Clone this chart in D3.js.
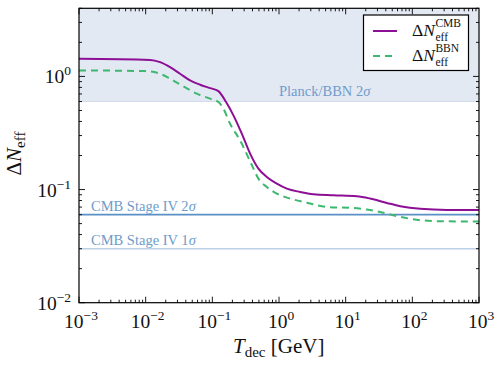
<!DOCTYPE html>
<html><head><meta charset="utf-8">
<script src="https://cdn.jsdelivr.net/npm/d3@7"></script>
<style>body{margin:0;background:#fff}svg{display:block}text{font-family:"Liberation Serif","DejaVu Serif",serif}</style>
</head><body><svg id="c" width="499" height="367"></svg>
<script>
// Data (T_dec in GeV, ΔN_eff)
const cmbT = [0.001,0.01164,0.01644,0.0232,0.0328,0.0463,0.0655,0.0925,0.1233,0.1607,0.207,0.2767,0.3685,0.491,0.656,0.927,1.31,2.07,3.29,6.56,14.7,23.3,41.5,65.7,131,330,1000];
const cmbN = [1.43,1.398,1.337,1.208,1.056,0.922,0.845,0.788,0.742,0.593,0.453,0.312,0.208,0.1532,0.1292,0.113,0.102,0.0953,0.0909,0.0891,0.0873,0.0833,0.0762,0.0713,0.0675,0.0661,0.0661];
const bbnT = [0.001,0.0098,0.0164,0.0232,0.0368,0.0583,0.0925,0.1233,0.1466,0.1845,0.2607,0.3685,0.491,0.656,0.927,1.47,2.61,5.22,13.1,20.8,32.9,46.5,73.7,131,262,1000];
const bbnN = [1.13,1.114,1.056,0.954,0.816,0.704,0.636,0.593,0.519,0.382,0.272,0.178,0.125,0.1054,0.0922,0.0833,0.0765,0.0702,0.0688,0.0666,0.0634,0.0602,0.0566,0.0536,0.0525,0.0522];
const xTickExp = [-3,-2,-1,0,1,2,3];
const yTickExp = [-2,-1,0];
const planckBBN = 0.6, s4two = 0.06, s4one = 0.03;
const xDomain = [1e-3,1e3], yDomain = [0.01,4];

const svg = d3.select("#c");
const L=79,R=479,T=8.3,B=302.7;
const x = d3.scaleLog().domain(xDomain).range([L,R]);
const y = d3.scaleLog().domain(yDomain).range([B,T]);

// band
svg.append("rect").attr("x",L).attr("y",T).attr("width",R-L).attr("height",y(planckBBN)-T).attr("fill","#e3e9f3");
svg.append("line").attr("x1",L).attr("x2",R).attr("y1",y(planckBBN)).attr("y2",y(planckBBN)).attr("stroke","#d3dcea").attr("stroke-width",1);
// S4 lines
svg.append("line").attr("x1",L).attr("x2",R).attr("y1",y(s4two)).attr("y2",y(s4two)).attr("stroke","#5b8fc6").attr("stroke-width",1.6);
svg.append("line").attr("x1",L).attr("x2",R).attr("y1",y(s4one)).attr("y2",y(s4one)).attr("stroke","#bcd0e6").attr("stroke-width",1.6);

const lab = (t,xx,yy)=>{const e=svg.append("text").attr("x",xx).attr("y",yy).attr("font-size",14.5).attr("fill","#6e9cca");
  const parts=t.split("σ"); e.append("tspan").text(parts[0]); e.append("tspan").attr("font-style","italic").text("σ"); return e;};
lab("Planck/BBN 2σ",279,y(planckBBN)-6);
lab("CMB Stage IV 2σ",91,y(s4two)-4);
lab("CMB Stage IV 1σ",91,y(s4one)-4);

// curves
const line = d3.line().x(d=>x(d[0])).y(d=>y(d[1])).curve(d3.curveMonotoneX);
svg.append("path").datum(bbnT.map((t,i)=>[t,bbnN[i]])).attr("d",line).attr("fill","none").attr("stroke","#3db86e").attr("stroke-width",2).attr("stroke-dasharray","7,5");
svg.append("path").datum(cmbT.map((t,i)=>[t,cmbN[i]])).attr("d",line).attr("fill","none").attr("stroke","#8c0f96").attr("stroke-width",2);

// frame
svg.append("rect").attr("x",L).attr("y",T).attr("width",R-L).attr("height",B-T).attr("fill","none").attr("stroke","#000").attr("stroke-width",1.2);

// ticks
const tk = svg.append("g").attr("stroke","#000").attr("stroke-width",0.9);
for(let e=-3;e<3;e++){for(let m=1;m<10;m++){const v=m*Math.pow(10,e);const len=m===1?6:3;const px=x(v);
  tk.append("line").attr("x1",px).attr("x2",px).attr("y1",B).attr("y2",B-len);
  tk.append("line").attr("x1",px).attr("x2",px).attr("y1",T).attr("y2",T+len);}}
tk.append("line").attr("x1",R).attr("x2",R).attr("y1",B).attr("y2",B-6);
for(let e=-2;e<1;e++){for(let m=1;m<10;m++){const v=m*Math.pow(10,e);if(v>yDomain[1])break;const len=m===1?6:3;const py=y(v);
  tk.append("line").attr("x1",L).attr("x2",L+len).attr("y1",py).attr("y2",py);
  tk.append("line").attr("x1",R).attr("x2",R-len).attr("y1",py).attr("y2",py);}}

// tick labels
function pow10(g,xx,yy,e,anchor){
  const t=g.append("text").attr("y",yy).attr("font-size",19.5).attr("fill","#111");
  t.append("tspan").text("10");
  t.append("tspan").attr("dy",-8).attr("font-size",13.5).text(e<0?"\u2212"+(-e):""+e);
  const w=t.node().getComputedTextLength();
  t.attr("x", anchor==="middle"? xx-w/2 : xx-w);
}
xTickExp.forEach(e=>pow10(svg,x(Math.pow(10,e))+2,B+25,e,"middle"));
yTickExp.forEach(e=>pow10(svg,L-8,y(Math.pow(10,e))+7,e,"end"));

// axis labels
const xl=svg.append("text").attr("y",353).attr("font-size",21).attr("fill","#111");
xl.append("tspan").attr("font-style","italic").text("T");
xl.append("tspan").attr("font-size",15).attr("dy",4).text("dec");
xl.append("tspan").attr("dy",-4).text(" [GeV]");
xl.attr("x",233);

const yl=svg.append("text").attr("font-size",21).attr("fill","#111");
yl.append("tspan").text("Δ");
yl.append("tspan").attr("font-style","italic").text("N");
yl.append("tspan").attr("font-size",15).attr("dy",4).text("eff");
const yw=yl.node().getComputedTextLength();
yl.attr("transform",`translate(21,${153.5+yw/2}) rotate(-90)`);

// legend
svg.append("rect").attr("x",363.5).attr("y",15).attr("width",105).attr("height",55.5).attr("fill","#fff").attr("stroke","#000").attr("stroke-width",1.2);
function legEntry(yy,sup,color,dash){
  svg.append("line").attr("x1",373).attr("x2",397).attr("y1",yy).attr("y2",yy).attr("stroke",color).attr("stroke-width",2).attr("stroke-dasharray",dash);
  const t=svg.append("text").attr("x",412).attr("y",yy+5).attr("font-size",17.5).attr("fill","#111");
  t.append("tspan").text("Δ"); t.append("tspan").attr("font-style","italic").text("N");
  const w=t.node().getComputedTextLength();
  svg.append("text").attr("x",412+w+0.5).attr("y",yy+9.5).attr("font-size",11.5).attr("fill","#111").text("eff");
  svg.append("text").attr("x",412+w+0.5).attr("y",yy-4).attr("font-size",11.5).attr("fill","#111").text(sup);
}
legEntry(31,"CMB","#8c0f96",null);
legEntry(56,"BBN","#3db86e","7,5");
</script></body></html>
